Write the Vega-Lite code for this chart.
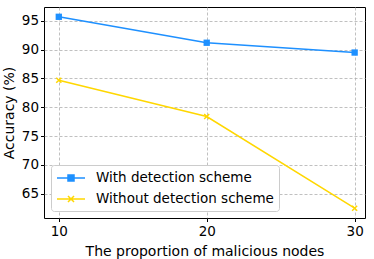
{
  "$schema": "https://vega.github.io/schema/vega-lite/v6.json",
  "width": 321,
  "height": 211,
  "autosize": {"type": "none"},
  "padding": {"left": 44, "top": 7, "right": 9, "bottom": 41},
  "background": "white",
  "config": {
    "font": "DejaVu Sans",
    "view": {"stroke": "black", "strokeWidth": 1},
    "axis": {
      "labelFont": "DejaVu Sans", "titleFont": "DejaVu Sans",
      "labelFontSize": 13.5, "titleFontSize": 14, "titleFontWeight": "normal",
      "labelColor": "black", "titleColor": "black",
      "tickColor": "black", "domain": false, "tickSize": 3.5,
      "grid": true, "gridColor": "#b0b0b0", "gridDash": [3, 2], "gridWidth": 0.8
    }
  },
  "data": {"values": [
    {"p": 10, "acc": 95.7, "series": "With detection scheme"},
    {"p": 20, "acc": 91.2, "series": "With detection scheme"},
    {"p": 30, "acc": 89.5, "series": "With detection scheme"},
    {"p": 10, "acc": 84.7, "series": "Without detection scheme"},
    {"p": 20, "acc": 78.4, "series": "Without detection scheme"},
    {"p": 30, "acc": 62.5, "series": "Without detection scheme"}
  ]},
  "encoding": {
    "x": {"field": "p", "type": "quantitative", "scale": {"domain": [9, 30.7], "nice": false, "zero": false},
      "axis": {"values": [10, 20, 30], "title": "The proportion of malicious nodes", "labelPadding": 3, "titlePadding": 6}},
    "y": {"field": "acc", "type": "quantitative", "scale": {"domain": [60.8, 97.4], "nice": false, "zero": false},
      "axis": {"values": [65, 70, 75, 80, 85, 90, 95], "title": "Accuracy (%)", "labelPadding": 2, "titlePadding": 5}}
  },
  "layer": [
    {
      "mark": {"type": "line", "strokeWidth": 1.5},
      "encoding": {
        "color": {"field": "series", "type": "nominal",
          "scale": {"domain": ["With detection scheme", "Without detection scheme"], "range": ["#1E90FF", "#FFD700"]},
          "legend": {
            "title": null, "orient": "bottom-left", "offset": 7,
            "fillColor": "white", "strokeColor": "#cccccc", "cornerRadius": 3, "padding": 5,
            "labelFont": "DejaVu Sans", "labelFontSize": 13.5, "labelColor": "black", "labelLimit": 400,
            "symbolSize": 196, "symbolStrokeWidth": 1.5, "symbolOffset": 7, "labelOffset": 17, "rowPadding": 6,
            "encode": {"symbols": {"update": {
              "shape": {"signal": "datum.label == 'With detection scheme' ? 'M-2,0H2M-0.43,-0.43H0.43V0.43H-0.43Z' : 'M-2,0H2M-0.43,-0.43L0.43,0.43M-0.43,0.43L0.43,-0.43'"},
              "fill": {"signal": "datum.label == 'With detection scheme' ? '#1E90FF' : '#FFD700'"},
              "stroke": {"signal": "datum.label == 'With detection scheme' ? '#1E90FF' : '#FFD700'"},
              "opacity": {"value": 1}
            }}}
          }}
      }
    },
    {
      "transform": [{"filter": "datum.series == 'With detection scheme'"}],
      "mark": {"type": "point", "filled": true, "shape": "square", "size": 40, "color": "#1E90FF", "opacity": 1}
    },
    {
      "transform": [{"filter": "datum.series == 'Without detection scheme'"}],
      "mark": {"type": "point", "filled": false, "shape": "M-0.8,-0.8L0.8,0.8M-0.8,0.8L0.8,-0.8", "size": 40, "strokeWidth": 1.5, "color": "#FFD700", "opacity": 1}
    }
  ]
}
